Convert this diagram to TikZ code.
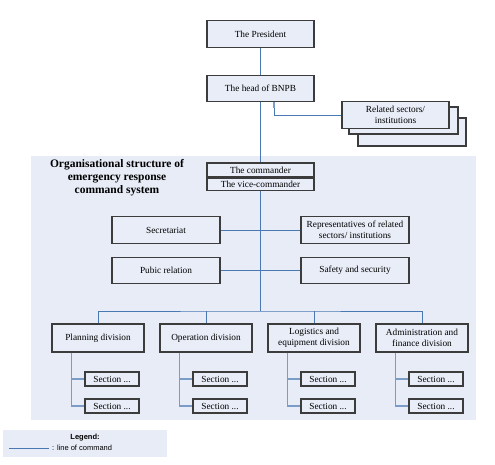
\documentclass[tikz,border=0pt]{standalone}
\usepackage{fontspec}
\setmainfont{Liberation Serif}
\newfontfamily\legendfont{Liberation Sans}
\definecolor{boxgray}{HTML}{3C3C3C}
\definecolor{boxfill}{HTML}{E8EDF7}
\definecolor{bgfill}{HTML}{E7ECF6}
\definecolor{cmdline}{HTML}{4A78B2}
\definecolor{subline}{HTML}{7C9CC8}
\tikzset{
  box/.style={draw=boxgray, fill=boxfill, line width=1.2pt, inner sep=0pt,
    align=center, font=\fontsize{9.3}{11.5}\selectfont},
  bigbox/.style={box, minimum width=107pt, minimum height=26.5pt},
  midbox/.style={box, minimum width=108pt, minimum height=26.5pt},
  divbox/.style={box, minimum width=92pt, minimum height=28pt},
  secbox/.style={box, minimum width=54pt, minimum height=14pt},
  cmd/.style={draw=cmdline, line width=0.9pt},
  subcmd/.style={draw=subline, line width=1.4pt},
}
\begin{document}
\begin{tikzpicture}[x=1pt,y=-1pt]
\useasboundingbox (0,0) rectangle (495,465);
% background region
\fill[bgfill] (31,156) rectangle (476,420);
% legend box
\fill[bgfill] (3,430) rectangle (167,457);

% top nodes
\node[bigbox] (pres) at (260.5,34) {The President};
\node[bigbox] (head) at (260.5,88.5) {The head of BNPB};

% related sectors stack
\node[bigbox, minimum width=108pt, minimum height=28pt] (rel3) at (412,132) {};
\node[bigbox, minimum width=109pt, minimum height=27pt] (rel2) at (403.5,120.5) {};
\node[bigbox] (rel1) at (395.5,115) {Related sectors/\\institutions};

% commander
\node[box, minimum width=107pt, minimum height=14pt] (cmdr) at (260.5,170) {The commander};
\node[box, minimum width=107pt, minimum height=12pt, anchor=north] (vice) at (cmdr.south) {The vice-commander};

% title
\node[align=center, font=\bfseries\fontsize{11.5}{13}\selectfont] (title) at (117,178)
  {Organisational structure of\\emergency response\\command system};

% staff
\node[midbox] (secr) at (166,230) {Secretariat};
\node[midbox] (repr) at (355,230) {Representatives of related\\sectors/ institutions};
\node[midbox] (pubr) at (166,270.5) {Pubic relation};
\node[midbox] (safe) at (355,270.5) {Safety and security};

% divisions
\node[divbox] (plan) at (98,338) {Planning division};
\node[divbox] (oper) at (206,338) {Operation division};
\node[divbox] (logi) at (314,338) {Logistics and\\equipment division};
\node[divbox] (admi) at (422,338) {Administration and\\finance division};

% sections
\node[secbox] (planA) at (112,379) {Section ...};
\node[secbox] (planB) at (112,406) {Section ...};
\node[secbox] (operA) at (220,379) {Section ...};
\node[secbox] (operB) at (220,406) {Section ...};
\node[secbox] (logiA) at (328,379) {Section ...};
\node[secbox] (logiB) at (328,406) {Section ...};
\node[secbox] (admiA) at (436,379) {Section ...};
\node[secbox] (admiB) at (436,406) {Section ...};

% command lines
\coordinate (bus) at (260.5,311);
\draw[cmd] (pres.south) -- (head.north);
\draw[cmd] (head.south) -- (cmdr.north);
\draw[cmd] (vice.south) -- (bus);
\draw[cmd] (secr.east) -- (repr.west);
\draw[cmd] (pubr.east) -- (safe.west);
\draw[cmd] (plan.north) |- (bus) -| (admi.north);
\draw[cmd] (oper.north) -- (oper.north |- bus);
\draw[cmd] (logi.north) -- (logi.north |- bus);
\draw[cmd] ([xshift=13.5pt]head.south) |- (rel1.west);
\draw[subcmd] ([xshift=13.5pt]head.south) -- ++(0,6);

% section branches
\foreach \d in {plan,oper,logi,admi}{
  \draw[subcmd] ([xshift=20pt]\d.south west) |- (\d B.west);
  \draw[subcmd] ([xshift=20pt]\d.south west |- \d A.west) -- (\d A.west);
}

% legend
\node[font=\legendfont\bfseries\fontsize{7.5}{9}\selectfont] (lgt) at (85,438) {Legend:};
\coordinate (lgA) at (9,448);
\coordinate (lgB) at (49,448);
\draw[cmd] (lgA) -- (lgB);
\node[font=\legendfont\fontsize{7.5}{9}\selectfont, anchor=west, inner sep=0pt] (lgl) at (52,448) {: line of command};
\end{tikzpicture}
\end{document}
